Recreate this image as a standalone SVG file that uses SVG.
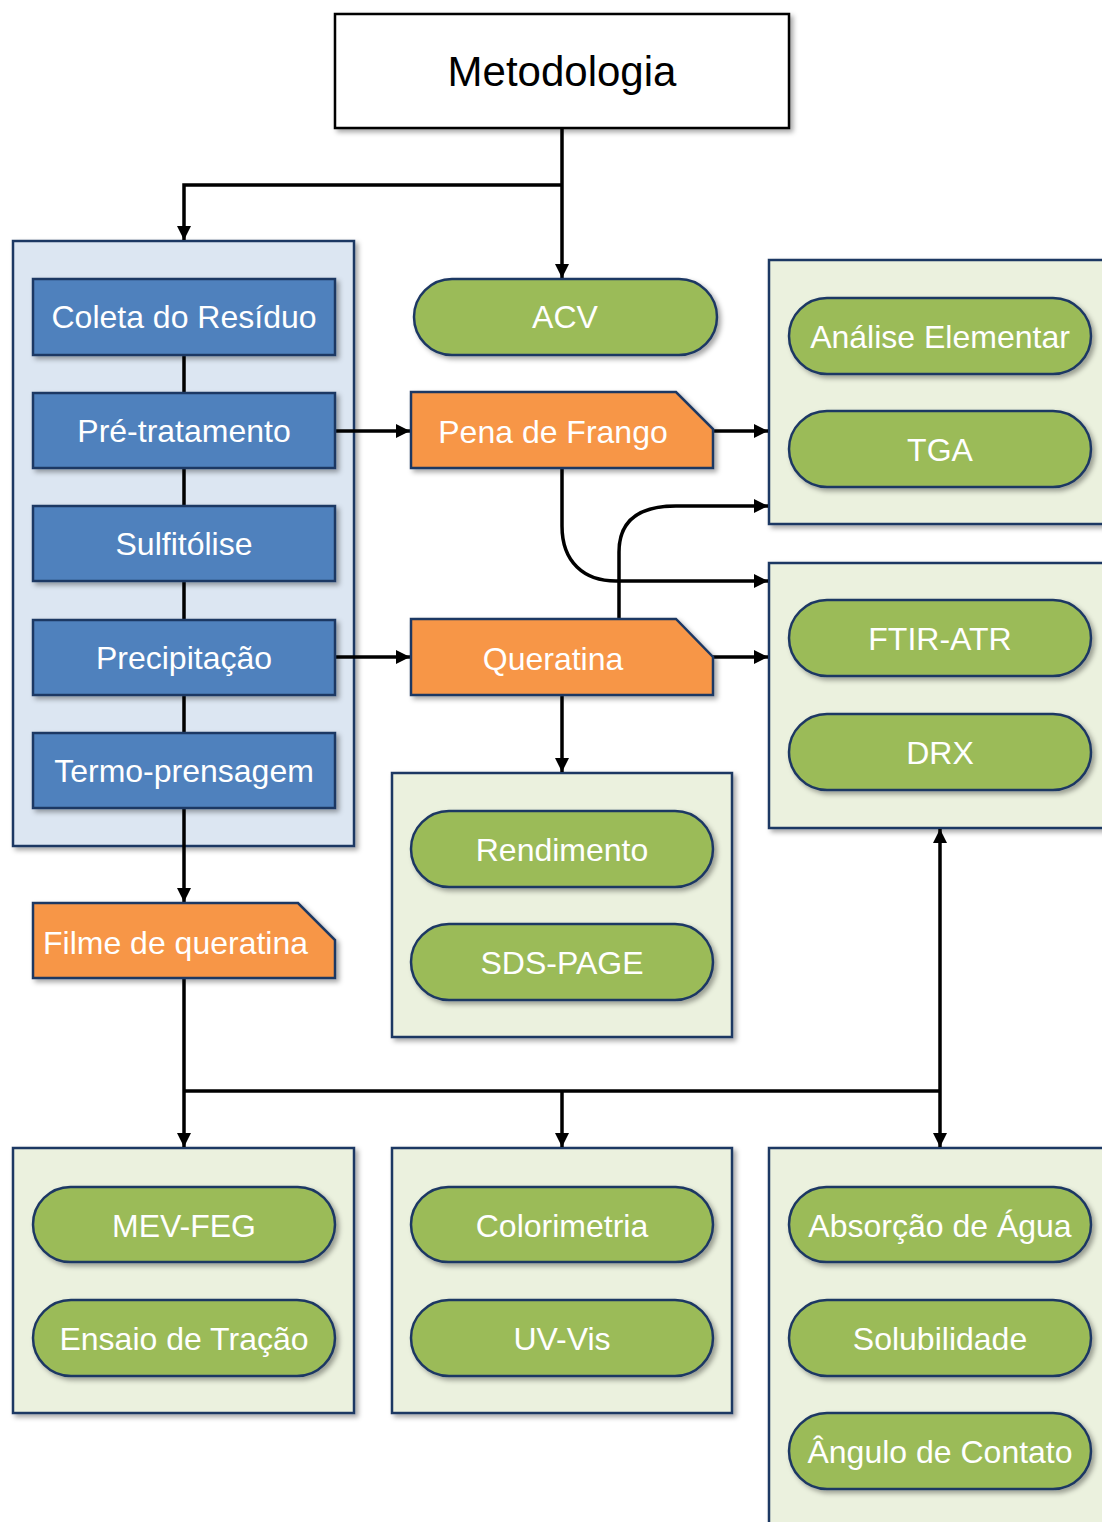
<svg xmlns="http://www.w3.org/2000/svg" width="1102" height="1522" viewBox="0 0 1102 1522">
<defs>
<filter id="sh" x="-10%" y="-10%" width="130%" height="130%">
<feDropShadow dx="3" dy="3" stdDeviation="2.5" flood-color="#000" flood-opacity="0.35"/>
</filter>
<marker id="ah" viewBox="0 0 14 14" refX="14" refY="7" markerWidth="14" markerHeight="14" markerUnits="userSpaceOnUse" orient="auto">
<path d="M0,0 L14,7 L0,14 Z" fill="#000"/>
</marker>
<style>
.cont-b{fill:#dce6f2;stroke:#1f3864;stroke-width:2.5;filter:url(#sh)}
.cont-g{fill:#ebf1de;stroke:#1f3864;stroke-width:2.5;filter:url(#sh)}
.blue{fill:#4f81bd;stroke:#1f3864;stroke-width:2.5;filter:url(#sh)}
.pill{fill:#9bbb59;stroke:#1f3864;stroke-width:2.5;filter:url(#sh)}
.org{fill:#f79646;stroke:#1f3864;stroke-width:2.5;filter:url(#sh)}
.t{font-family:"Liberation Sans",Arial,sans-serif;font-size:32px;fill:#fff;text-anchor:middle}
.c{fill:none;stroke:#000;stroke-width:3.5}
</style>
</defs>

<g id="containers">
<rect id="grp-process" class="cont-b" x="13" y="241" width="341" height="605"/>
<rect id="grp-pena" class="cont-g" x="769" y="260" width="345" height="264"/>
<rect id="grp-queratina" class="cont-g" x="769" y="563" width="345" height="265"/>
<rect id="grp-rend" class="cont-g" x="392" y="773" width="340" height="264"/>
<rect id="grp-b1" class="cont-g" x="13" y="1148" width="341" height="265"/>
<rect id="grp-b2" class="cont-g" x="392" y="1148" width="340" height="265"/>
<rect id="grp-b3" class="cont-g" x="769" y="1148" width="345" height="390"/>
</g>

<g id="connectors">
<path class="c" d="M562,128 V278" marker-end="url(#ah)"/>
<path class="c" d="M562,185 H184 V240" marker-end="url(#ah)"/>
<path class="c" d="M184,355 V393 M184,468 V506 M184,581 V620 M184,695 V733"/>
<path class="c" d="M335,431 H410" marker-end="url(#ah)"/>
<path class="c" d="M713,431 H768" marker-end="url(#ah)"/>
<path class="c" d="M335,657 H410" marker-end="url(#ah)"/>
<path class="c" d="M713,657 H768" marker-end="url(#ah)"/>
<path class="c" d="M562,468 V526 C562,562 584,581 616,581 H768" marker-end="url(#ah)"/>
<path class="c" d="M619,619 V552 C619,522 637,506 676,506 H768" marker-end="url(#ah)"/>
<path class="c" d="M562,695 V772" marker-end="url(#ah)"/>
<path class="c" d="M184,808 V902" marker-end="url(#ah)"/>
<path class="c" d="M184,978 V1147" marker-end="url(#ah)"/>
<path class="c" d="M184,1091 H940"/>
<path class="c" d="M562,1091 V1147" marker-end="url(#ah)"/>
<path class="c" d="M940,1091 V1147" marker-end="url(#ah)"/>
<path class="c" d="M940,1091 V829" marker-end="url(#ah)"/>
</g>

<g id="n-metodologia">
<rect x="335" y="14" width="454" height="114" fill="#fff" stroke="#000" stroke-width="2.5" filter="url(#sh)"/>
<text x="562" y="86" font-family="Liberation Sans, Arial, sans-serif" font-size="42" text-anchor="middle" fill="#000">Metodologia</text>
</g>

<g id="n-coleta"><rect class="blue" x="33" y="279" width="302" height="76"/><text class="t" x="184" y="328">Coleta do Resíduo</text></g>
<g id="n-pre"><rect class="blue" x="33" y="393" width="302" height="75"/><text class="t" x="184" y="442">Pré-tratamento</text></g>
<g id="n-sulf"><rect class="blue" x="33" y="506" width="302" height="75"/><text class="t" x="184" y="555">Sulfitólise</text></g>
<g id="n-precip"><rect class="blue" x="33" y="620" width="302" height="75"/><text class="t" x="184" y="669">Precipitação</text></g>
<g id="n-termo"><rect class="blue" x="33" y="733" width="302" height="75"/><text class="t" x="184" y="782">Termo-prensagem</text></g>

<g id="n-acv"><rect class="pill" x="414" y="279" width="303" height="76" rx="38"/><text class="t" x="565" y="328">ACV</text></g>

<g id="n-pena"><path class="org" d="M411,392 H676 L713,429 V468 H411 Z"/><text class="t" x="553" y="443">Pena de Frango</text></g>
<g id="n-queratina"><path class="org" d="M411,619 H676 L713,657 V695 H411 Z"/><text class="t" x="553" y="670">Queratina</text></g>
<g id="n-filme"><path class="org" d="M33,903 H298 L335,940 V978 H33 Z"/><text class="t" x="43" y="954" style="text-anchor:start">Filme de queratina</text></g>

<g id="n-analise"><rect class="pill" x="789" y="298" width="302" height="76" rx="38"/><text class="t" x="940" y="348">Análise Elementar</text></g>
<g id="n-tga"><rect class="pill" x="789" y="411" width="302" height="76" rx="38"/><text class="t" x="940" y="461">TGA</text></g>
<g id="n-ftir"><rect class="pill" x="789" y="600" width="302" height="76" rx="38"/><text class="t" x="940" y="650">FTIR-ATR</text></g>
<g id="n-drx"><rect class="pill" x="789" y="714" width="302" height="76" rx="38"/><text class="t" x="940" y="764">DRX</text></g>

<g id="n-rend"><rect class="pill" x="411" y="811" width="302" height="76" rx="38"/><text class="t" x="562" y="861">Rendimento</text></g>
<g id="n-sds"><rect class="pill" x="411" y="924" width="302" height="76" rx="38"/><text class="t" x="562" y="974">SDS-PAGE</text></g>

<g id="n-mev"><rect class="pill" x="33" y="1187" width="302" height="75" rx="37.5"/><text class="t" x="184" y="1237">MEV-FEG</text></g>
<g id="n-ensaio"><rect class="pill" x="33" y="1300" width="302" height="76" rx="38"/><text class="t" x="184" y="1350">Ensaio de Tração</text></g>
<g id="n-color"><rect class="pill" x="411" y="1187" width="302" height="75" rx="37.5"/><text class="t" x="562" y="1237">Colorimetria</text></g>
<g id="n-uv"><rect class="pill" x="411" y="1300" width="302" height="76" rx="38"/><text class="t" x="562" y="1350">UV-Vis</text></g>
<g id="n-absorcao"><rect class="pill" x="789" y="1187" width="302" height="75" rx="37.5"/><text class="t" x="940" y="1237">Absorção de Água</text></g>
<g id="n-solub"><rect class="pill" x="789" y="1300" width="302" height="76" rx="38"/><text class="t" x="940" y="1350">Solubilidade</text></g>
<g id="n-angulo"><rect class="pill" x="789" y="1413" width="302" height="76" rx="38"/><text class="t" x="940" y="1463">Ângulo de Contato</text></g>
</svg>
